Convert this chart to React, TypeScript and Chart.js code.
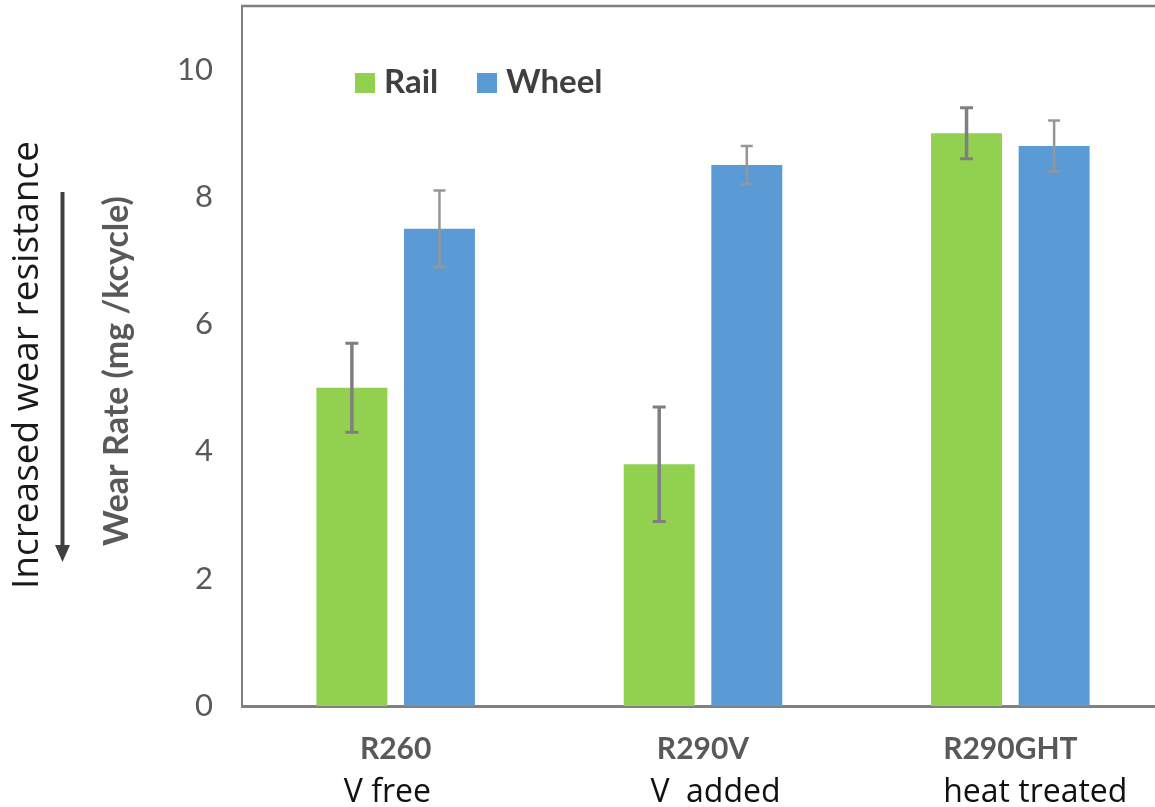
import React, { useEffect, useRef } from 'react';
import { Chart, registerables } from 'chart.js';

Chart.register(...registerables);

const categories = ['R260', 'R290V', 'R290GHT'];
const subLabels = ['V free  ', '   V  added', '      heat treated'];
const railValues = [5.0, 3.8, 9.0];
const railErrors = [0.7, 0.9, 0.4];
const wheelValues = [7.5, 8.5, 8.8];
const wheelErrors = [0.6, 0.3, 0.4];
const seriesNames = ['Rail', 'Wheel'];
const yMax = 11;
const yStep = 2;
const yTitle = 'Wear Rate (mg /kcycle)';
const sideNote = 'Increased wear resistance';

const GREEN = '#92D050';
const BLUE = '#5B9BD5';

const errorsBySeries = [railErrors, wheelErrors];
const errStyles = [
  { color: '#7f7f7f', width: 3.5, cap: 13, capWidth: 3 },
  { color: '#969696', width: 2.5, cap: 12, capWidth: 2.5 },
];

const decorPlugin = {
  id: 'decor',
  afterDatasetsDraw(chart: any) {
    const ctx = chart.ctx;
    const ys = chart.scales.y;
    chart.data.datasets.forEach((ds: any, di: number) => {
      const meta = chart.getDatasetMeta(di);
      const st = errStyles[di];
      meta.data.forEach((el: any, i: number) => {
        const v = ds.data[i];
        const e = errorsBySeries[di][i];
        const yT = ys.getPixelForValue(v + e);
        const yB = ys.getPixelForValue(v - e);
        ctx.save();
        ctx.strokeStyle = st.color;
        ctx.lineWidth = st.width;
        ctx.beginPath();
        ctx.moveTo(el.x, yT);
        ctx.lineTo(el.x, yB);
        ctx.stroke();
        ctx.lineWidth = st.capWidth;
        ctx.beginPath();
        ctx.moveTo(el.x - st.cap / 2, yT);
        ctx.lineTo(el.x + st.cap / 2, yT);
        ctx.moveTo(el.x - st.cap / 2, yB);
        ctx.lineTo(el.x + st.cap / 2, yB);
        ctx.stroke();
        ctx.restore();
      });
    });
  },
  afterDraw(chart: any) {
    const ctx = chart.ctx;
    const ca = chart.chartArea;
    const xs = chart.scales.x;
    ctx.save();
    // top frame line
    ctx.strokeStyle = '#808080';
    ctx.lineWidth = 2.5;
    ctx.beginPath();
    ctx.moveTo(ca.left - 1, ca.top);
    ctx.lineTo(chart.width, ca.top);
    ctx.stroke();

    // legend
    const colors = [GREEN, BLUE];
    const legendX = [ca.left + 113, ca.left + 235];
    ctx.font = 'bold 33px Lato';
    ctx.textAlign = 'left';
    ctx.textBaseline = 'alphabetic';
    seriesNames.forEach((n, i) => {
      ctx.fillStyle = colors[i];
      ctx.fillRect(legendX[i], ca.top + 67, 20, 20);
      ctx.fillStyle = '#404040';
      ctx.fillText(n, legendX[i] + 29, ca.top + 87);
    });

    // x labels
    ctx.textAlign = 'center';
    categories.forEach((c, i) => {
      const x = xs.getPixelForTick(i);
      ctx.font = 'bold 30px Lato';
      ctx.fillStyle = '#595959';
      ctx.fillText(c, x, ca.bottom + 53);
      ctx.font = '32px "Open Sans"';
      ctx.fillStyle = '#111111';
      ctx.fillText(subLabels[i], x, ca.bottom + 96);
    });

    // y title
    const midY = (ca.top + ca.bottom) / 2;
    ctx.save();
    ctx.translate(128, midY + 15);
    ctx.rotate(-Math.PI / 2);
    ctx.font = 'bold 34px Lato';
    ctx.fillStyle = '#595959';
    ctx.textAlign = 'center';
    ctx.fillText(yTitle, 0, 0);
    ctx.restore();

    // side note
    ctx.save();
    ctx.translate(38, midY + 9);
    ctx.rotate(-Math.PI / 2);
    ctx.font = '37px "Open Sans"';
    ctx.fillStyle = '#1a1a1a';
    ctx.textAlign = 'center';
    ctx.fillText(sideNote, 0, 0);
    ctx.restore();

    // arrow
    ctx.strokeStyle = '#404040';
    ctx.fillStyle = '#404040';
    ctx.lineWidth = 4;
    ctx.beginPath();
    ctx.moveTo(62.5, 192);
    ctx.lineTo(62.5, 548);
    ctx.stroke();
    ctx.beginPath();
    ctx.moveTo(55, 545);
    ctx.lineTo(70, 545);
    ctx.lineTo(62.5, 562);
    ctx.closePath();
    ctx.fill();
    ctx.restore();
  },
};

export default function App() {
  const ref = useRef<HTMLCanvasElement>(null);
  useEffect(() => {
    if (!ref.current) return;
    const chart = new Chart(ref.current, {
      type: 'bar',
      data: {
        labels: categories,
        datasets: [
          {
            label: seriesNames[0],
            data: railValues,
            backgroundColor: GREEN,
            categoryPercentage: 0.57,
            barPercentage: 0.81,
          },
          {
            label: seriesNames[1],
            data: wheelValues,
            backgroundColor: BLUE,
            categoryPercentage: 0.57,
            barPercentage: 0.81,
          },
        ],
      },
      options: {
        responsive: false,
        animation: false,
        layout: { padding: { top: 6, left: 0, right: 0, bottom: 0 } },
        plugins: { legend: { display: false }, tooltip: { enabled: false } },
        scales: {
          x: {
            grid: { display: false, drawTicks: false },
            border: { display: true, color: '#808080', width: 3 },
            ticks: { display: false },
            afterFit: (s: any) => {
              s.height = 101;
              s.paddingLeft = 0;
              s.paddingRight = 0;
            },
          },
          y: {
            min: 0,
            max: yMax,
            grid: { display: false, drawTicks: false },
            border: { display: true, color: '#808080', width: 2 },
            ticks: {
              stepSize: yStep,
              includeBounds: false,
              padding: 29,
              color: '#595959',
              font: { family: 'Lato', size: 31 },
            },
            afterFit: (s: any) => {
              s.width = 242;
              s.paddingTop = 0;
              s.paddingBottom = 0;
            },
          },
        },
      } as any,
      plugins: [decorPlugin],
    });
    return () => chart.destroy();
  }, []);
  return (
    <div
      style={{
        position: 'fixed',
        left: 0,
        top: 0,
        width: 1155,
        height: 807,
        overflow: 'hidden',
        background: '#fff',
      }}
    >
      <canvas ref={ref} width={1164} height={807} style={{ display: 'block' }} />
    </div>
  );
}
